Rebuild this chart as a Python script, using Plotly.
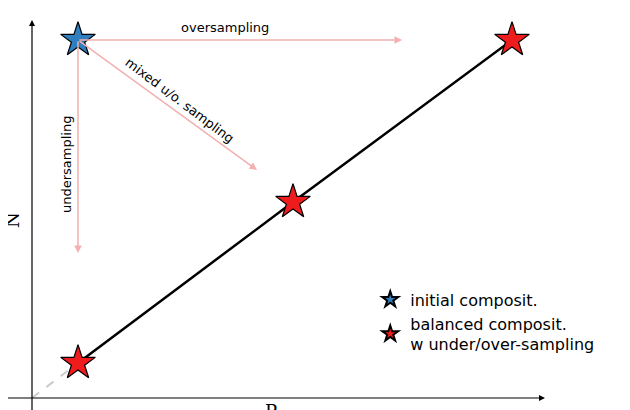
import plotly.graph_objects as go

# data coordinates (P, N)
initial_P = [46]
initial_N = [358]
balanced_P = [46, 261, 480]
balanced_N = [35, 196, 358]
origin = [0, 0]
over_end = [370, 358]
under_end = [46, 145]
mixed_end = [225, 228]

fig = go.Figure()
fig.add_trace(go.Scatter(x=[origin[0], balanced_P[0]], y=[origin[1], balanced_N[0]], mode="lines",
                         line=dict(color="#cccccc", width=2, dash="dash"), showlegend=False))
fig.add_trace(go.Scatter(x=balanced_P, y=balanced_N, mode="lines",
                         line=dict(color="black", width=2.5), showlegend=False))
fig.add_trace(go.Scatter(x=initial_P, y=initial_N, mode="markers", name="initial composit.",
                         marker=dict(symbol="star", size=26, color="#2e7fc0", line=dict(color="black", width=1.2))))
fig.add_trace(go.Scatter(x=balanced_P, y=balanced_N, mode="markers", name="balanced composit.<br>w under/over-sampling",
                         marker=dict(symbol="star", size=26, color="#ee1c1c", line=dict(color="black", width=1.2))))

pink = "#f3b0b0"
ann = []
def arrow(x0, y0, x1, y1, color, w, head=2):
    ann.append(dict(x=x1, y=y1, ax=x0, ay=y0, xref="x", yref="y", axref="x", ayref="y",
                    showarrow=True, arrowhead=head, arrowsize=1, arrowwidth=w, arrowcolor=color, text=""))
arrow(initial_P[0], initial_N[0], *over_end, pink, 1.5)
arrow(initial_P[0], initial_N[0], *under_end, pink, 1.5)
arrow(initial_P[0], initial_N[0], *mixed_end, pink, 1.5)
arrow(-27, 0, 513, 0, "black", 1.2)
arrow(0, -17, 0, 378, "black", 1.2)
font = dict(family="DejaVu Sans", size=13, color="black")
ann += [
    dict(x=193, y=371, xref="x", yref="y", text="oversampling", showarrow=False, font=font),
    dict(x=148, y=298, xref="x", yref="y", text="mixed u/o. sampling", showarrow=False, font=font, textangle=37),
    dict(x=34, y=233, xref="x", yref="y", text="undersampling", showarrow=False, font=font, textangle=-90),
    dict(x=239, y=-13, xref="x", yref="y", text="P", showarrow=False, font=dict(family="DejaVu Serif", size=18, color="black")),
    dict(x=-20, y=178, xref="x", yref="y", text="N", showarrow=False, font=dict(family="DejaVu Serif", size=18, color="black"), textangle=-90),
]
fig.update_layout(
    width=630, height=410, margin=dict(l=0, r=0, t=0, b=0),
    paper_bgcolor="white", plot_bgcolor="white",
    xaxis=dict(range=[-24, 606], visible=False),
    yaxis=dict(range=[-20, 390], visible=False),
    annotations=ann,
    legend=dict(x=0.575, y=0.33, xanchor="left", yanchor="top",
                font=dict(family="DejaVu Sans", size=16, color="black"),
                bgcolor="rgba(0,0,0,0)", itemsizing="constant", tracegroupgap=10),
)
fig.write_html("out.html")
